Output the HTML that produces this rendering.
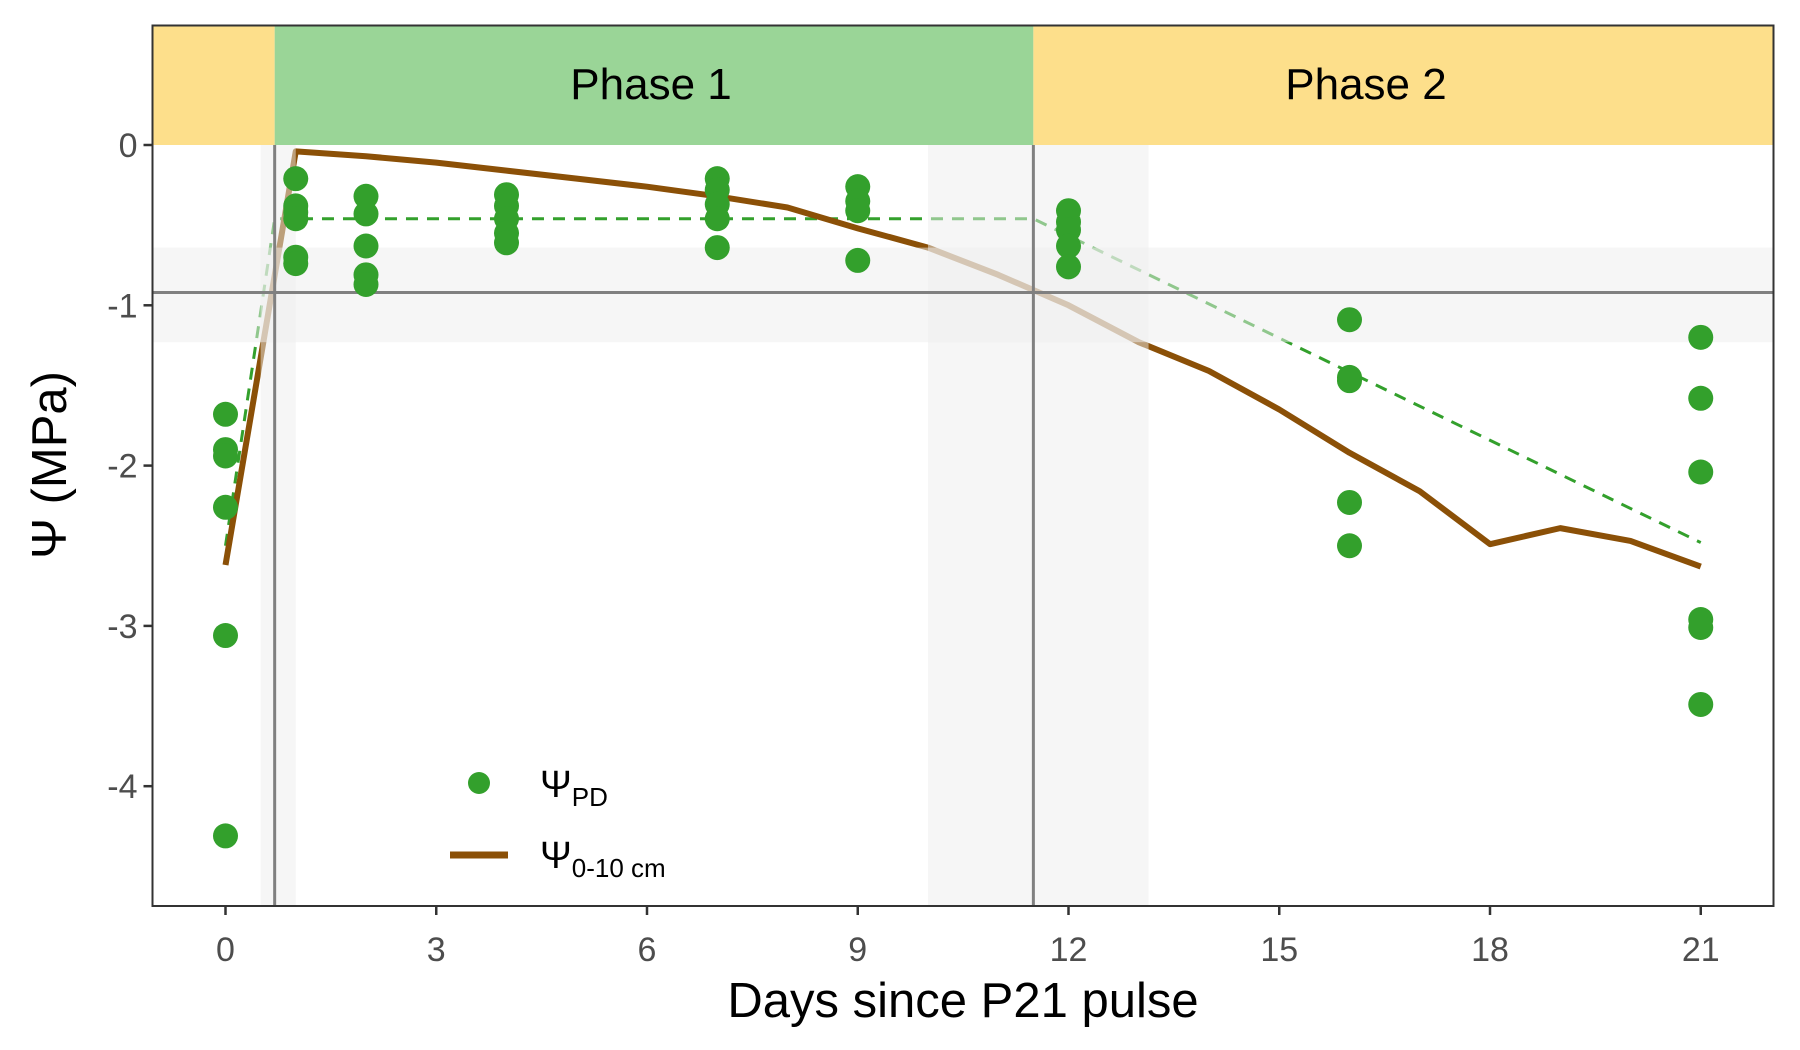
<!DOCTYPE html>
<html><head><meta charset="utf-8"><style>
html,body{margin:0;padding:0;background:#fff;}
svg{display:block;font-family:"Liberation Sans",Arial,sans-serif;}
</style></head><body>
<svg id="chart" width="1800" height="1050" viewBox="0 0 1800 1050" xmlns="http://www.w3.org/2000/svg">
<g id="strip"></g>
<g id="lines"></g>
<g id="overlay"></g>
<g id="pts"></g>
<g id="axes"></g>
<g id="legend">
  <circle cx="479" cy="783" r="11" fill="#33a02c"/>
  <text x="540" y="797" font-size="38">Ψ<tspan font-size="26" dy="9">PD</tspan></text>
  <line x1="450" y1="855" x2="508" y2="855" stroke="#8b5007" stroke-width="7"/>
  <text x="540" y="868" font-size="38">Ψ<tspan font-size="26" dy="9">0-10 cm</tspan></text>
</g>
<text x="963" y="1017" font-size="49" text-anchor="middle">Days since P21 pulse</text>
<text transform="translate(66,465) rotate(-90)" font-size="49" text-anchor="middle">Ψ (MPa)</text>
</svg>
<script>
const soilDays = [0,1,2,3,4,5,6,7,8,9,10,11,12,13,14,15,16,17,18,19,20,21];
const soilPsi = [-2.62,-0.04,-0.07,-0.11,-0.16,-0.21,-0.26,-0.32,-0.39,-0.52,-0.64,-0.81,-1.0,-1.23,-1.41,-1.65,-1.92,-2.16,-2.49,-2.39,-2.47,-2.63];
const pdDays = [0,0,0,0,0,0, 1,1,1,1,1,1, 2,2,2,2,2, 4,4,4,4,4, 7,7,7,7,7, 9,9,9,9, 12,12,12,12,12, 16,16,16,16,16, 21,21,21,21,21,21];
const pdPsi = [-1.68,-1.90,-1.94,-2.26,-3.06,-4.31, -0.21,-0.38,-0.42,-0.46,-0.70,-0.74, -0.32,-0.43,-0.63,-0.81,-0.87, -0.31,-0.38,-0.46,-0.55,-0.61, -0.21,-0.28,-0.37,-0.46,-0.64, -0.26,-0.35,-0.41,-0.72, -0.41,-0.48,-0.53,-0.63,-0.76, -1.09,-1.45,-1.47,-2.23,-2.50, -1.20,-1.58,-2.04,-2.96,-3.01,-3.49];
const fitDays = [0,0.7,11.5,21];
const fitPsi = [-2.5,-0.46,-0.46,-2.48];
const xTicks = [0,3,6,9,12,15,18,21];
const yTicks = [0,-1,-2,-3,-4];
const phaseStarts = [0.7,11.5];
const thresholdPsi = -0.92, thresholdLow = -1.23, thresholdHigh = -0.64;
const bandRanges = [[0.5,1.0],[10,13.14]];

const NS="http://www.w3.org/2000/svg";
const L=152.5,R=1773.5,T=25.5,SB=145,B=906;
const X=d=>225.5+d*70.25;
const Y=v=>145+(-v)*160.3;
function mk(p,tag,a){const e=document.createElementNS(NS,tag);for(const k in a)e.setAttribute(k,a[k]);p.appendChild(e);return e;}
const $=id=>document.getElementById(id);

let e;
e=mk($('strip'),'rect',{x:L,y:T,width:X(phaseStarts[0])-L,height:SB-T,fill:'#fddf8b'});

e=mk($('strip'),'rect',{x:X(phaseStarts[0]),y:T,width:X(phaseStarts[1])-X(phaseStarts[0]),height:SB-T,fill:'#9ad597'});

e=mk($('strip'),'rect',{x:X(phaseStarts[1]),y:T,width:R-X(phaseStarts[1]),height:SB-T,fill:'#fddf8b'});

e=mk($('strip'),'text',{x:(X(phaseStarts[0])+X(phaseStarts[1]))/2-3,y:99,'font-size':44,'text-anchor':'middle'});e.textContent='Phase 1';

e=mk($('strip'),'text',{x:1366,y:99,'font-size':44,'text-anchor':'middle'});e.textContent='Phase 2';


e=mk($('lines'),'polyline',{points:fitDays.map((d,i)=>X(d)+','+Y(fitPsi[i])).join(' '),fill:'none',stroke:'#33a02c','stroke-width':3,'stroke-dasharray':'12,9'});

e=mk($('lines'),'polyline',{points:soilDays.map((d,i)=>X(d)+','+Y(soilPsi[i])).join(' '),fill:'none',stroke:'#8b5007','stroke-width':6,'stroke-linejoin':'round'});


bandRanges.forEach(r=>{
  const b=mk($('overlay'),'rect',{x:X(r[0]),y:SB,width:X(r[1])-X(r[0]),height:B-SB,fill:'#eeeeee','fill-opacity':0.5});
  
  
});
e=mk($('overlay'),'rect',{x:L,y:Y(thresholdHigh),width:R-L,height:Y(thresholdLow)-Y(thresholdHigh),fill:'#eeeeee','fill-opacity':0.5});

phaseStarts.forEach(p=>{
  const l=mk($('overlay'),'line',{x1:X(p),y1:SB,x2:X(p),y2:B,stroke:'#808080','stroke-width':3});
  
  
});
e=mk($('overlay'),'line',{x1:L,y1:Y(thresholdPsi),x2:R,y2:Y(thresholdPsi),stroke:'#808080','stroke-width':3});


pdDays.forEach((d,i)=>{
  const c=mk($('pts'),'circle',{cx:X(d),cy:Y(pdPsi[i]),r:12.5,fill:'#33a02c'});
  
  
});

const ax=$('axes');
e=mk(ax,'rect',{x:L,y:T,width:R-L,height:B-T,fill:'none',stroke:'#333','stroke-width':2});

xTicks.forEach(t=>{
  const tk=mk(ax,'line',{x1:X(t),y1:B,x2:X(t),y2:B+9,stroke:'#333','stroke-width':2.5});
  
  
  const tl=mk(ax,'text',{x:X(t),y:961,'font-size':34,'text-anchor':'middle',fill:'#4d4d4d'});tl.textContent=t;
  
  
});
yTicks.forEach(t=>{
  const tk=mk(ax,'line',{x1:L-9,y1:Y(t),x2:L,y2:Y(t),stroke:'#333','stroke-width':2.5});
  
  
  const tl=mk(ax,'text',{x:L-15,y:Y(t)+12,'font-size':34,'text-anchor':'end',fill:'#4d4d4d'});tl.textContent=t;
  
  
});
</script>
</body></html>
